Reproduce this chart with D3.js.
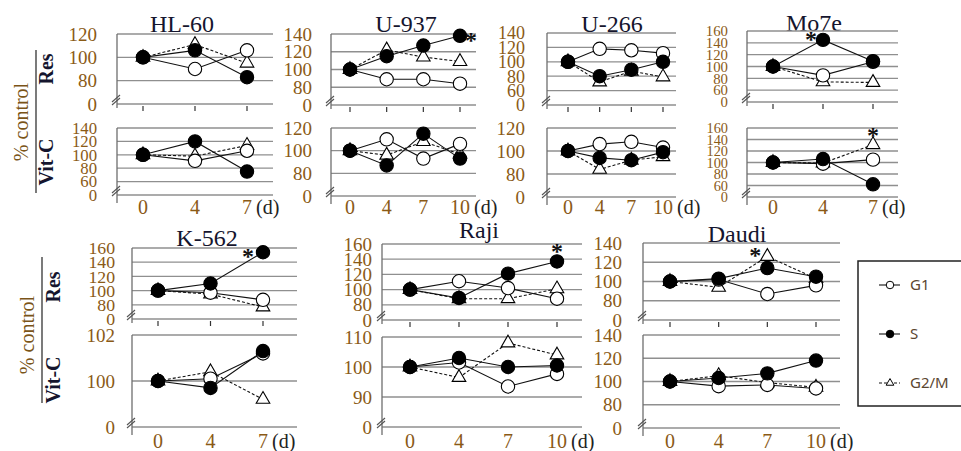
<!DOCTYPE html>
<html><head><meta charset="utf-8">
<script src="https://cdn.jsdelivr.net/npm/d3@7"></script>
<style>body{margin:0;background:#fff}svg{display:block}</style>
</head><body>
<svg id="chart" width="961" height="451"></svg>
<script>
// ---------- data ----------
const seriesNames = ["G1", "S", "G2/M"];
const treatmentNames = ["Res", "Vit-C"];
const yAxisTitle = "% control";
const dayUnit = "(d)";
const breakLabel = "0";
const days3 = ["0", "4", "7"];
const days4 = ["0", "4", "7", "10"];

// HL-60
const hl60ResTicks = [80, 100, 120];
const hl60VitTicks = [60, 80, 100, 120, 140];
const hl60ResG1 = [100, 90, 106];
const hl60ResS = [100, 106, 83];
const hl60ResG2M = [100, 111, 95];
const hl60VitG1 = [100, 91, 106];
const hl60VitS = [100, 120, 75];
const hl60VitG2M = [100, 98, 114];
// U-937
const u937ResTicks = [80, 100, 120, 140];
const u937VitTicks = [80, 100, 120];
const u937ResG1 = [100, 89, 89, 84];
const u937ResS = [100, 115, 127, 138];
const u937ResG2M = [100, 122, 114, 109];
const u937VitG1 = [100, 110, 93, 106];
const u937VitS = [100, 87, 115, 93];
const u937VitG2M = [100, 96, 108, 97];
// U-266
const u266ResTicks = [60, 80, 100, 120, 140];
const u266VitTicks = [80, 100, 120];
const u266ResG1 = [100, 118, 116, 112];
const u266ResS = [100, 80, 89, 100];
const u266ResG2M = [100, 72, 87, 79];
const u266VitG1 = [100, 106, 108, 103];
const u266VitS = [100, 94, 92, 99];
const u266VitG2M = [100, 84, 92, 95];
// Mo7e
const mo7eResTicks = [60, 80, 100, 120, 140, 160];
const mo7eVitTicks = [60, 80, 100, 120, 140, 160];
const mo7eResG1 = [100, 85, 108];
const mo7eResS = [100, 145, 109];
const mo7eResG2M = [100, 74, 73];
const mo7eVitG1 = [100, 98, 105];
const mo7eVitS = [100, 106, 62];
const mo7eVitG2M = [100, 99, 131];
// K-562
const k562ResTicks = [80, 100, 120, 140, 160];
const k562VitTicks = [100, 102];
const k562ResG1 = [100, 97, 87];
const k562ResS = [100, 110, 154];
const k562ResG2M = [100, 95, 77];
const k562VitG1 = [100, 100.1, 101.2];
const k562VitS = [100, 99.7, 101.3];
const k562VitG2M = [100, 100.4, 99.2];
// Raji
const rajiResTicks = [80, 100, 120, 140, 160];
const rajiVitTicks = [90, 100, 110];
const rajiResG1 = [100, 111, 102, 88];
const rajiResS = [100, 89, 121, 137];
const rajiResG2M = [100, 88, 88, 101];
const rajiVitG1 = [100, 101.5, 93.5, 97.7];
const rajiVitS = [100, 103, 100, 100.5];
const rajiVitG2M = [100, 96.5, 108, 104];
// Daudi
const daudiResTicks = [80, 100, 120, 140];
const daudiVitTicks = [80, 100, 120, 140];
const daudiResG1 = [100, 102, 87, 96];
const daudiResS = [100, 103, 114, 105];
const daudiResG2M = [100, 94, 126, 103];
const daudiVitG1 = [100, 96, 97, 94];
const daudiVitS = [100, 103, 107, 118];
const daudiVitG2M = [100, 105, 99, 95];

// significance marks: [panel, treatment, series, dayIndex, side]
const starMarks = [
  ["U-937", "Res", "S", 3, "right"],
  ["Mo7e", "Res", "S", 1, "upleft"],
  ["Mo7e", "Vit-C", "G2/M", 2, "above"],
  ["K-562", "Res", "S", 2, "left"],
  ["Raji", "Res", "S", 3, "above"],
  ["Daudi", "Res", "G2/M", 2, "upleft"]
];

// ---------- assemble ----------
const panelData = [
  {name: "HL-60", days: days3, res: {ticks: hl60ResTicks, G1: hl60ResG1, S: hl60ResS, "G2/M": hl60ResG2M}, vit: {ticks: hl60VitTicks, G1: hl60VitG1, S: hl60VitS, "G2/M": hl60VitG2M}},
  {name: "U-937", days: days4, res: {ticks: u937ResTicks, G1: u937ResG1, S: u937ResS, "G2/M": u937ResG2M}, vit: {ticks: u937VitTicks, G1: u937VitG1, S: u937VitS, "G2/M": u937VitG2M}},
  {name: "U-266", days: days4, res: {ticks: u266ResTicks, G1: u266ResG1, S: u266ResS, "G2/M": u266ResG2M}, vit: {ticks: u266VitTicks, G1: u266VitG1, S: u266VitS, "G2/M": u266VitG2M}},
  {name: "Mo7e", days: days3, res: {ticks: mo7eResTicks, G1: mo7eResG1, S: mo7eResS, "G2/M": mo7eResG2M}, vit: {ticks: mo7eVitTicks, G1: mo7eVitG1, S: mo7eVitS, "G2/M": mo7eVitG2M}},
  {name: "K-562", days: days3, res: {ticks: k562ResTicks, G1: k562ResG1, S: k562ResS, "G2/M": k562ResG2M}, vit: {ticks: k562VitTicks, G1: k562VitG1, S: k562VitS, "G2/M": k562VitG2M}},
  {name: "Raji", days: days4, res: {ticks: rajiResTicks, G1: rajiResG1, S: rajiResS, "G2/M": rajiResG2M}, vit: {ticks: rajiVitTicks, G1: rajiVitG1, S: rajiVitS, "G2/M": rajiVitG2M}},
  {name: "Daudi", days: days4, res: {ticks: daudiResTicks, G1: daudiResG1, S: daudiResS, "G2/M": daudiResG2M}, vit: {ticks: daudiVitTicks, G1: daudiVitG1, S: daudiVitS, "G2/M": daudiVitG2M}}
];

// ---------- layout (pixels) ----------
const layout = {
  "HL-60": {ax: 117, x0: 143, x1: 247, gx: 273, lx: 97, tx: 182, ty: 32, res: [34, 104], vit: [128, 195], dy: 214},
  "U-937": {ax: 331, x0: 350, x1: 460, gx: 476, lx: 312, tx: 406, ty: 32, res: [34, 105], vit: [128, 196], dy: 214},
  "U-266": {ax: 547, x0: 568, x1: 663, gx: 676, lx: 525, tx: 612, ty: 32, res: [33, 105], vit: [128, 197], dy: 214},
  "Mo7e":  {ax: 747, x0: 773, x1: 873, gx: 898, lx: 728, tx: 814, ty: 31, res: [31, 102], vit: [128, 197], dy: 214},
  "K-562": {ax: 132, x0: 158, x1: 263, gx: 297, lx: 115, tx: 207, ty: 246, res: [248, 319], vit: [335, 427], dy: 448},
  "Raji":  {ax: 382, x0: 410, x1: 557, gx: 582, lx: 372, tx: 479, ty: 238, res: [244, 320], vit: [337, 427], dy: 448},
  "Daudi": {ax: 643, x0: 670, x1: 816, gx: 840, lx: 622, tx: 737, ty: 242, res: [243, 320], vit: [335, 428], dy: 448}
};

const SERIF = "'Liberation Serif','DejaVu Serif',serif";
const tickColor = "#8a5a16";
const titleColor = "#15152e";
const gridColor = "#8f8f8f";

const svg = d3.select("#chart");

const sym = {
  "G1": {shape: d3.symbolCircle, size: 140, fill: "#fff", dash: null},
  "S": {shape: d3.symbolCircle, size: 140, fill: "#000", dash: null},
  "G2/M": {shape: d3.symbolTriangle, size: 80, fill: "#fff", dash: "3,2"}
};
const drawOrder = ["G2/M", "G1", "S"];

const scales = {};

panelData.forEach(p => {
  const L = layout[p.name];
  const g = svg.append("g");
  const x = d3.scalePoint().domain(p.days).range([L.x0, L.x1]);

  // title
  g.append("text").attr("x", L.tx).attr("y", L.ty).attr("text-anchor", "middle")
    .attr("font-family", SERIF).attr("font-size", 24).attr("fill", titleColor).text(p.name);

  [["Res", p.res, L.res], ["Vit-C", p.vit, L.vit]].forEach(([tr, d, yr]) => {
    const t = d.ticks;
    const step = t[1] - t[0];
    const low = t[0] - step;
    const y = d3.scaleLinear().domain([low, t[t.length - 1]]).range([yr[1], yr[0]]);
    scales[p.name + "|" + tr] = {x, y};
    const sg = g.append("g");

    const gridVals = [low].concat(t);
    sg.selectAll("line.grid").data(gridVals).join("line").attr("class", "grid")
      .attr("x1", L.ax).attr("x2", L.gx).attr("y1", v => y(v)).attr("y2", v => y(v))
      .attr("stroke", gridColor).attr("stroke-width", 1.3);

    const ext = tr === "Res" ? 4 : 8;
    sg.append("line").attr("x1", L.ax).attr("x2", L.ax).attr("y1", y(t[t.length - 1]))
      .attr("y2", y(low) + ext).attr("stroke", "#6e6e6e").attr("stroke-width", 1.3);

    const yb = y(low);
    [0, -3].forEach(o => {
      sg.append("line").attr("x1", L.ax - 5).attr("y1", yb + 1 + o)
        .attr("x2", L.ax + 3).attr("y2", yb - 6 + o).attr("stroke", "#555").attr("stroke-width", 1.1);
    });

    const spacing = Math.abs(y(t[1]) - y(t[0]));
    sg.selectAll("text.yt").data(gridVals).join("text").attr("class", "yt")
      .attr("x", L.lx).attr("y", v => y(v)).attr("dy", "0.35em").attr("text-anchor", "end")
      .attr("font-family", SERIF).attr("font-size", Math.min(19, spacing * 1.25)).attr("fill", tickColor)
      .text((v, i) => i === 0 ? breakLabel : v);

    if (tr === "Res") {
      sg.selectAll("line.xt").data(p.days).join("line").attr("class", "xt")
        .attr("x1", v => x(v)).attr("x2", v => x(v)).attr("y1", yb + 2).attr("y2", yb + 7)
        .attr("stroke", "#333").attr("stroke-width", 1.2);
    }

    drawOrder.forEach(s => {
      const vals = d[s];
      const pts = vals.map((v, i) => [x(p.days[i]), y(v)]);
      sg.append("path").attr("d", d3.line()(pts)).attr("fill", "none")
        .attr("stroke", "#111").attr("stroke-width", 1.1)
        .attr("stroke-dasharray", sym[s].dash);
      sg.selectAll("path.m" + s.replace("/", "")).data(pts).join("path")
        .attr("transform", q => `translate(${q[0]},${q[1]})`)
        .attr("d", d3.symbol().type(sym[s].shape).size(sym[s].size)())
        .attr("fill", sym[s].fill).attr("stroke", "#000").attr("stroke-width", 1.1);
    });
  });

  const xl = g.selectAll("text.xl").data(p.days).join("text").attr("class", "xl")
    .attr("x", v => x(v)).attr("y", L.dy).attr("text-anchor", "middle")
    .attr("font-family", SERIF).attr("font-size", 20).attr("fill", tickColor).text(v => v);
  const lastNode = xl.nodes()[p.days.length - 1];
  const lw = lastNode.getComputedTextLength();
  g.append("text").attr("x", x(p.days[p.days.length - 1]) + lw / 2 + 4).attr("y", L.dy)
    .attr("font-family", SERIF).attr("font-size", 20).attr("fill", "#222").text(dayUnit);
});

// stars
const starOffset = {right: [11, 1], left: [-15, 1], above: [0, -13], upleft: [-12, -4]};
starMarks.forEach(([pn, tr, s, di, side]) => {
  const p = panelData.find(q => q.name === pn);
  const sc = scales[pn + "|" + tr];
  const d = tr === "Res" ? p.res : p.vit;
  const cx = sc.x(p.days[di]) + starOffset[side][0];
  const cy = sc.y(d[s][di]) + starOffset[side][1];
  svg.append("text").attr("x", cx).attr("y", cy + 11).attr("text-anchor", "middle")
    .attr("font-family", SERIF).attr("font-size", 24).attr("font-weight", "bold")
    .attr("fill", "#111").text("*");
});

// left side labels
function sideLabels(lineX, lineY0, lineY1, pcX, pcY, trX, resY, vitY) {
  svg.append("line").attr("x1", lineX).attr("x2", lineX).attr("y1", lineY0).attr("y2", lineY1)
    .attr("stroke", "#222").attr("stroke-width", 1.2);
  svg.append("text").attr("transform", `translate(${pcX},${pcY}) rotate(-90)`).attr("text-anchor", "middle")
    .attr("font-family", SERIF).attr("font-size", 20).attr("fill", "#7a5418").text(yAxisTitle);
  svg.append("text").attr("transform", `translate(${trX},${resY}) rotate(-90)`).attr("text-anchor", "middle")
    .attr("font-family", SERIF).attr("font-size", 20).attr("font-weight", "bold").attr("fill", titleColor).text(treatmentNames[0]);
  svg.append("text").attr("transform", `translate(${trX},${vitY}) rotate(-90)`).attr("text-anchor", "middle")
    .attr("font-family", SERIF).attr("font-size", 20).attr("font-weight", "bold").attr("fill", titleColor).text(treatmentNames[1]);
}
sideLabels(36, 50, 193, 28, 122, 53, 69, 162);
sideLabels(42, 257, 403, 34, 335, 60, 287, 380);

// legend
const lg = svg.append("g");
lg.append("rect").attr("x", 858).attr("y", 261).attr("width", 130).attr("height", 145)
  .attr("fill", "#fff").attr("stroke", "#222").attr("stroke-width", 1.5);
const legY = d3.scalePoint().domain(seriesNames).range([285, 383]);
seriesNames.forEach(s => {
  const yy = legY(s);
  lg.append("line").attr("x1", 879).attr("x2", 900).attr("y1", yy).attr("y2", yy)
    .attr("stroke", "#111").attr("stroke-width", 1.1).attr("stroke-dasharray", sym[s].dash);
  lg.append("path").attr("transform", `translate(890,${yy})`)
    .attr("d", d3.symbol().type(sym[s].shape).size(sym[s].size * 0.32)())
    .attr("fill", sym[s].fill).attr("stroke", "#000").attr("stroke-width", 1).attr("stroke-dasharray", null);
  lg.append("text").attr("x", 910).attr("y", yy + 5).attr("font-family", "'Noto Sans','Open Sans',sans-serif")
    .attr("font-size", 15).attr("fill", "#5a4630").text(s);
});
</script>
</body></html>
